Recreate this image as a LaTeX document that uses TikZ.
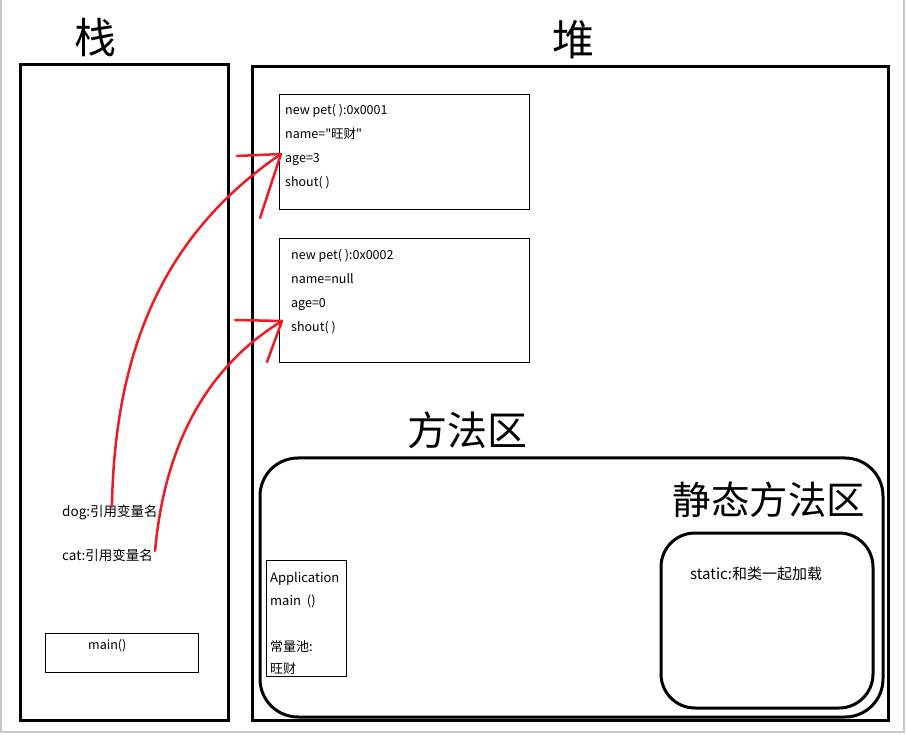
\documentclass[tikz,border=0pt]{standalone}
\usepackage{fontspec}
\setmainfont{Noto Sans CJK SC}
\setmonofont{Noto Sans CJK SC}
\usepackage{tikz}
\usetikzlibrary{positioning}
\definecolor{ink}{HTML}{000000}
\definecolor{pen}{HTML}{ED1C24}
\definecolor{edge}{HTML}{C8C8C8}
\tikzset{
  title/.style={font=\fontsize{42}{42}\selectfont,inner sep=0pt},
  wall/.style={draw=ink,line width=3pt,anchor=north west,inner sep=0pt,outer sep=0pt},
  area/.style={wall,rounded corners=38pt},
  objbox/.style={draw=ink,line width=0.9pt,anchor=north west,inner sep=0pt,outer sep=0pt},
  field/.style={anchor=west,font=\fontsize{12.5}{12.5}\selectfont,inner sep=0pt,text height=9pt,text depth=3pt},
  ref/.style={draw=pen,line width=2.5pt,line cap=round}}

\begin{document}
\begin{tikzpicture}[x=1pt,y=-1pt]
\useasboundingbox (0,0) rectangle (906,735);
\fill[white] (0,0) rectangle (906,735);
\draw[edge,line width=2pt] (1,0) -- (1,732) -- (904,732) -- (904,0);
% titles
\node[title] (stacktitle) at (95,38) {栈};
\node[title] (heaptitle) at (573,40) {堆};
% stack
\node[wall,minimum width=208,minimum height=655] (stack) at (20,65) {};
\node[field,font=\fontsize{13.5}{13.5}\selectfont] (dog) at (62,513) {dog:引用变量名};
\node[field,font=\fontsize{13.5}{13.5}\selectfont] (cat) at (62,557) {cat:引用变量名};
\node[objbox,minimum width=153,minimum height=39] (mainframe) at (45,633) {};
\node[field] (mainlbl) at (88,646) {main()};
% heap
\node[wall,minimum width=636,minimum height=653] (heap) at (252,67) {};
\node[objbox,minimum width=250,minimum height=115] (obj1) at (279,94) {};
\node[field] (o1a) at ([xshift=6pt,yshift=-18pt]obj1.north west) {new pet( ):0x0001};
\node[field,below=24pt of o1a.west,anchor=west] (o1b) {\ttfamily name="旺财"};
\node[field,below=24pt of o1b.west,anchor=west] (o1c) {age=3};
\node[field,below=24pt of o1c.west,anchor=west] (o1d) {shout( )};
\node[objbox,minimum width=250,minimum height=124] (obj2) at (279,238) {};
\node[field] (o2a) at ([xshift=12pt,yshift=-19pt]obj2.north west) {new pet( ):0x0002};
\node[field,below=24pt of o2a.west,anchor=west] (o2b) {name=null};
\node[field,below=24pt of o2b.west,anchor=west] (o2c) {age=0};
\node[field,below=24pt of o2c.west,anchor=west] (o2d) {shout( )};
% method area
\node[title,font=\fontsize{40}{40}\selectfont] (methodtitle) at (467,430) {方法区};
\node[area,minimum width=623,minimum height=259] (method) at (260,458) {};
\node[title,font=\fontsize{38.5}{38.5}\selectfont] (statictitle) at (769,500) {静态方法区};
\node[area,rounded corners=34pt,minimum width=212,minimum height=175] (static) at (661,533) {};
\node[field,font=\fontsize{15}{15}\selectfont] (staticlbl) at (690,576) {static:和类一起加载};
\node[objbox,minimum width=80,minimum height=116] (app) at (266,560) {};
\node[field,font=\fontsize{13}{13}\selectfont] (app1) at (270,579) {Application};
\node[field,font=\fontsize{13}{13}\selectfont,below=23pt of app1.west,anchor=west] (app2) {main\ \ ()};
\node[field,font=\fontsize{13}{13}\selectfont,below=46pt of app2.west,anchor=west] (app3) {常量池:};
\node[field,font=\fontsize{13}{13}\selectfont,below=22pt of app3.west,anchor=west] (app4) {旺财};
% references
\coordinate (tip1) at ([xshift=-4pt,yshift=6pt]o1c.west);
\coordinate (tip2) at ([xshift=-9pt,yshift=8pt]o2d.west);
\draw[ref] ([xshift=2pt]dog.north) .. controls (115,340) and (170,230) .. (tip1);
\draw[ref] (tip1) -- ++(-44,2);
\draw[ref] (tip1) -- ++(-21,64);
\draw[ref] ([xshift=2pt]cat.north east) .. controls (165,440) and (210,365) .. (tip2);
\draw[ref] (tip2) -- ++(-47,-1);
\draw[ref] (tip2) -- ++(-15,41);
\end{tikzpicture}
\end{document}
